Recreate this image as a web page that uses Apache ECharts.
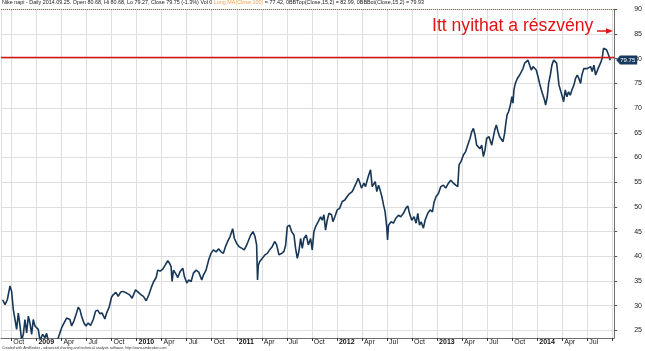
<!DOCTYPE html>
<html>
<head>
<meta charset="utf-8">
<script src="https://cdn.jsdelivr.net/npm/echarts@6/dist/echarts.min.js"></script>
<style>
html,body{margin:0;padding:0;background:#fff;}
#c{width:645px;height:351px;}
</style>
</head>
<body>
<div id="c"></div>
<script>
// ---- data (dates as decimal years, daily-close trace) ----
const dateYears = [
 2008.663,2008.686,2008.709,2008.736,2008.752,2008.769,2008.786,2008.802,2008.819,2008.836,
 2008.852,2008.869,2008.885,2008.902,2008.919,2008.935,2008.952,2008.968,2008.985,
 2009.002,2009.018,2009.035,2009.062,2009.085,2009.101,2009.135,2009.184,2009.218,2009.251,
 2009.268,2009.301,2009.334,2009.351,2009.374,2009.400,2009.417,2009.434,2009.450,2009.474,
 2009.494,2009.517,2009.540,2009.567,2009.590,2009.610,2009.633,2009.656,2009.683,2009.700,
 2009.726,2009.749,2009.766,2009.793,2009.816,2009.839,2009.862,2009.896,2009.929,2009.955,2009.989,
 2010.012,2010.045,2010.068,2010.095,2010.122,2010.145,2010.168,2010.195,2010.211,2010.235,
 2010.261,2010.288,2010.311,2010.328,2010.344,2010.354,2010.368,2010.388,2010.411,2010.434,
 2010.461,2010.477,2010.501,2010.520,2010.544,2010.567,2010.594,2010.620,2010.650,2010.667,
 2010.693,2010.720,2010.743,2010.766,2010.793,2010.820,2010.843,2010.866,2010.886,2010.909,
 2010.933,2010.959,2010.976,2010.999,
 2011.026,2011.052,2011.075,2011.099,2011.139,2011.162,2011.182,2011.198,2011.207,2011.215,
 2011.228,2011.255,2011.282,2011.305,2011.328,2011.355,2011.378,2011.398,2011.421,2011.448,
 2011.471,2011.488,2011.504,2011.527,2011.547,2011.571,2011.587,2011.604,2011.620,2011.637,
 2011.654,2011.670,2011.694,2011.714,2011.737,2011.753,2011.770,2011.787,2011.813,2011.837,
 2011.853,2011.870,2011.886,2011.903,2011.920,2011.946,2011.960,2011.979,
 2012.003,2012.026,2012.053,2012.079,2012.102,2012.126,2012.152,2012.169,2012.192,2012.212,
 2012.225,2012.245,2012.269,2012.285,2012.302,2012.318,2012.335,2012.352,2012.365,2012.382,
 2012.398,2012.415,2012.431,2012.448,2012.465,2012.481,2012.498,2012.505,2012.515,2012.541,
 2012.564,2012.588,2012.614,2012.637,2012.664,2012.687,2012.707,2012.724,2012.747,2012.770,
 2012.790,2012.807,2012.824,2012.840,2012.863,2012.880,2012.907,2012.930,2012.953,2012.970,2012.990,
 2013.013,2013.036,2013.063,2013.086,2013.113,2013.136,2013.163,2013.186,2013.206,2013.219,
 2013.239,2013.262,2013.285,2013.305,2013.329,2013.345,2013.362,2013.379,2013.395,2013.412,
 2013.428,2013.445,2013.462,2013.478,2013.495,2013.518,2013.545,2013.575,2013.591,2013.608,
 2013.624,2013.641,2013.658,2013.674,2013.684,2013.698,2013.714,2013.731,2013.747,2013.757,
 2013.767,2013.781,2013.801,2013.824,2013.841,2013.857,2013.874,2013.890,2013.907,2013.924,
 2013.940,2013.957,2013.973,2013.990,
 2014.007,2014.023,2014.040,2014.057,2014.073,2014.083,2014.100,2014.113,2014.130,2014.146,
 2014.163,2014.180,2014.193,2014.206,2014.216,2014.229,2014.246,2014.263,2014.279,2014.296,
 2014.312,2014.329,2014.346,2014.366,2014.382,2014.399,2014.415,2014.432,2014.445,2014.465,
 2014.482,2014.499,2014.515,2014.532,2014.548,2014.565,2014.582,2014.598,2014.615,2014.631,
 2014.648,2014.661,2014.678,2014.691,2014.705,2014.718,2014.728
];
const closes = [
 31.2,30.2,31.2,34.0,32.9,29.2,27.2,25.2,28.5,25.9,
 23.0,24.2,27.2,24.5,27.9,26.5,24.2,27.2,25.9,
 25.5,25.2,23.0,24.2,23.5,24.4,21.5,21.0,23.5,25.5,
 26.2,27.5,27.2,25.9,26.9,28.5,29.7,29.2,27.9,26.5,
 25.9,26.5,26.0,27.2,28.9,29.1,28.4,28.5,27.3,28.5,
 29.7,31.7,32.2,32.7,31.9,32.7,32.9,32.6,32.2,31.5,33.2,
 32.8,32.2,31.9,31.0,32.2,33.6,34.8,35.7,37.2,37.0,
 37.4,38.3,39.1,38.6,37.9,34.9,37.2,36.6,35.7,36.9,
 37.6,35.9,34.6,35.2,34.9,36.6,37.2,36.8,35.2,36.2,
 37.2,39.3,40.6,41.3,40.9,41.5,40.9,40.6,41.9,43.0,
 44.0,45.6,43.6,42.6,
 41.9,41.6,41.3,42.3,44.3,45.0,44.0,42.3,35.2,38.2,
 38.9,39.6,40.3,40.6,41.3,42.0,43.0,42.3,40.3,40.6,
 41.0,42.3,46.0,46.3,45.0,44.3,41.6,39.6,41.0,43.6,
 41.6,43.6,44.3,42.3,43.6,41.3,45.0,46.0,47.0,48.0,
 47.3,48.4,45.3,47.3,48.7,48.4,47.0,48.0,
 49.4,49.7,51.1,51.4,52.1,52.7,53.1,53.8,54.8,55.8,
 55.1,53.8,54.8,54.1,55.4,56.5,57.5,54.1,53.8,55.1,
 53.1,54.4,53.4,52.1,50.4,49.0,45.7,43.3,46.3,47.0,
 46.7,47.7,48.3,48.0,48.7,49.7,50.2,48.7,47.3,48.0,
 46.7,48.7,46.3,47.0,45.7,47.3,48.7,49.4,49.0,51.0,52.1,
 52.7,54.1,54.4,53.8,54.8,55.4,54.8,54.4,54.1,58.5,
 59.2,60.5,61.2,62.5,63.9,65.2,65.9,64.5,62.5,62.9,
 61.8,62.5,60.2,61.5,63.9,64.2,62.5,65.5,66.6,65.2,
 64.2,63.9,63.2,64.9,66.6,68.6,69.3,70.6,72.3,71.0,
 73.7,75.0,76.0,76.7,77.0,78.0,79.1,79.4,79.7,80.1,
 77.7,78.4,78.7,77.7,
 76.4,75.0,73.7,72.6,71.6,70.6,72.3,75.0,76.7,78.7,
 79.7,79.4,79.1,76.7,74.7,74.3,72.6,71.3,73.7,72.3,
 73.3,72.6,73.7,74.7,76.0,76.7,76.0,75.0,76.7,78.0,
 78.4,78.0,77.7,78.4,77.4,78.7,76.7,77.0,78.4,79.1,
 80.1,82.1,82.4,81.8,81.1,80.4,79.7
];
const quarterNames = ['', 'Apr', 'Jul', 'Oct'];
const lastClose = 79.75;
const entryLevel = 80.3;
const topLevel = 90;
const titleMain = 'Nike napi - Daily 2014.09.25. Open 80.68, Hi 80.68, Lo 79.27, Close 79.75 (-1.3%) Vol 0 ';
const titleMA = 'Long MA(Close,100)';
const titleRest = ' = 77.42, 0BBTop(Close,15,2) = 82.99, 0BBBot(Close,15,2) = 79.93';
const annotation = 'Itt nyithat a részvény';
const footer = 'Created with AmiBroker - advanced charting and technical analysis software. http://www.amibroker.com';

const seriesData = dateYears.map((d, i) => [d, closes[i]]);
const FONT = '"Liberation Sans", Arial, sans-serif';
const xMin = 2008.646, xMax = 2014.768;
const lastLabelYear = 2014.7;

const chart = echarts.init(document.getElementById('c'), null, {renderer: 'canvas'});
chart.setOption({
  animation: false,
  backgroundColor: '#ffffff',
  grid: {left: 1, right: 30, top: 9.3, bottom: 13, containLabel: false},
  xAxis: {
    type: 'value', min: xMin, max: xMax, minInterval: 0.25, maxInterval: 0.25, splitNumber: 24,
    axisLine: {show: true, lineStyle: {color: '#6e6e6e', width: 1}},
    axisTick: {show: true, length: 3, lineStyle: {color: '#333'}},
    splitLine: {show: true, lineStyle: {color: '#dedede', width: 1}},
    axisLabel: {
      show: true, showMinLabel: false, showMaxLabel: false, align: 'left', margin: 1,
      fontFamily: FONT, fontSize: 7, color: '#222',
      formatter: function (v) {
        const q4 = v * 4;
        if (Math.abs(q4 - Math.round(q4)) > 1e-6 || v > lastLabelYear) return '';
        const yr = Math.floor(v + 1e-6);
        const q = Math.round((v - yr) * 4);
        if (q === 0) return '{b|' + yr + '}';
        return ' ' + quarterNames[q];
      },
      rich: {b: {fontWeight: 'bold', fontFamily: FONT, fontSize: 7, color: '#111', padding: [0, 0, 0, 2]}}
    }
  },
  yAxis: {
    type: 'value', position: 'right', min: 23.46, max: 90, minInterval: 5, maxInterval: 5, splitNumber: 13,
    axisLine: {show: true, lineStyle: {color: '#6e6e6e', width: 1}},
    axisTick: {show: true, length: 3, lineStyle: {color: '#555'}},
    splitLine: {show: true, lineStyle: {color: '#dedede', width: 1}},
    axisLabel: {show: true, showMinLabel: false, margin: 20, align: 'left', fontFamily: FONT, fontSize: 7, color: '#222'}
  },
  series: [{
    type: 'line', data: seriesData, showSymbol: false, symbol: 'none', clip: true,
    lineStyle: {color: '#173757', width: 1.6}, itemStyle: {color: '#173757'},
    markLine: {
      silent: true, symbol: 'none', label: {show: false},
      data: [
        {yAxis: entryLevel, lineStyle: {color: '#d81414', width: 1.3, type: 'solid'}},
        {yAxis: topLevel, lineStyle: {color: '#e04040', width: 1, type: 'dotted'}}
      ]
    },
    markPoint: {
      silent: true, z: 20,
      data: [{coord: [xMax, lastClose], value: lastClose}],
      symbol: 'path://M0,4.5 L4,0 L22,0 L22,9 L4,9 Z', symbolSize: [21, 9], symbolKeepAspect: false,
      symbolOffset: [12.5, 0],
      itemStyle: {color: '#173a5e'},
      label: {show: true, position: 'inside', offset: [1, 0], formatter: String(lastClose), color: '#fff', fontSize: 6, fontFamily: FONT}
    }
  }],
  graphic: [
    {type: 'text', left: 2, top: 0, z: 10, style: {
      text: '{k|' + titleMain + '}{o|' + titleMA + '}{k|' + titleRest + '}',
      rich: {
        k: {fontFamily: FONT, fontSize: 5.4, fill: '#1a1a1a'},
        o: {fontFamily: FONT, fontSize: 5.4, fill: '#f0a050'}
      }
    }},
    {type: 'text', left: 432, top: 17, z: 10, style: {text: annotation, fontFamily: FONT, fontSize: 17.6, fill: '#e01414'}},
    {type: 'line', z: 10, shape: {x1: 597, y1: 31, x2: 608, y2: 31}, style: {stroke: '#e01414', lineWidth: 1.5}},
    {type: 'polygon', z: 10, shape: {points: [[606, 28.3], [613, 31], [606, 33.7]]}, style: {fill: '#e01414'}},
    {type: 'text', left: 2, top: 346, z: 10, style: {text: footer, fontFamily: FONT, fontSize: 3.6, fill: '#333'}}
  ]
});
</script>
</body>
</html>
